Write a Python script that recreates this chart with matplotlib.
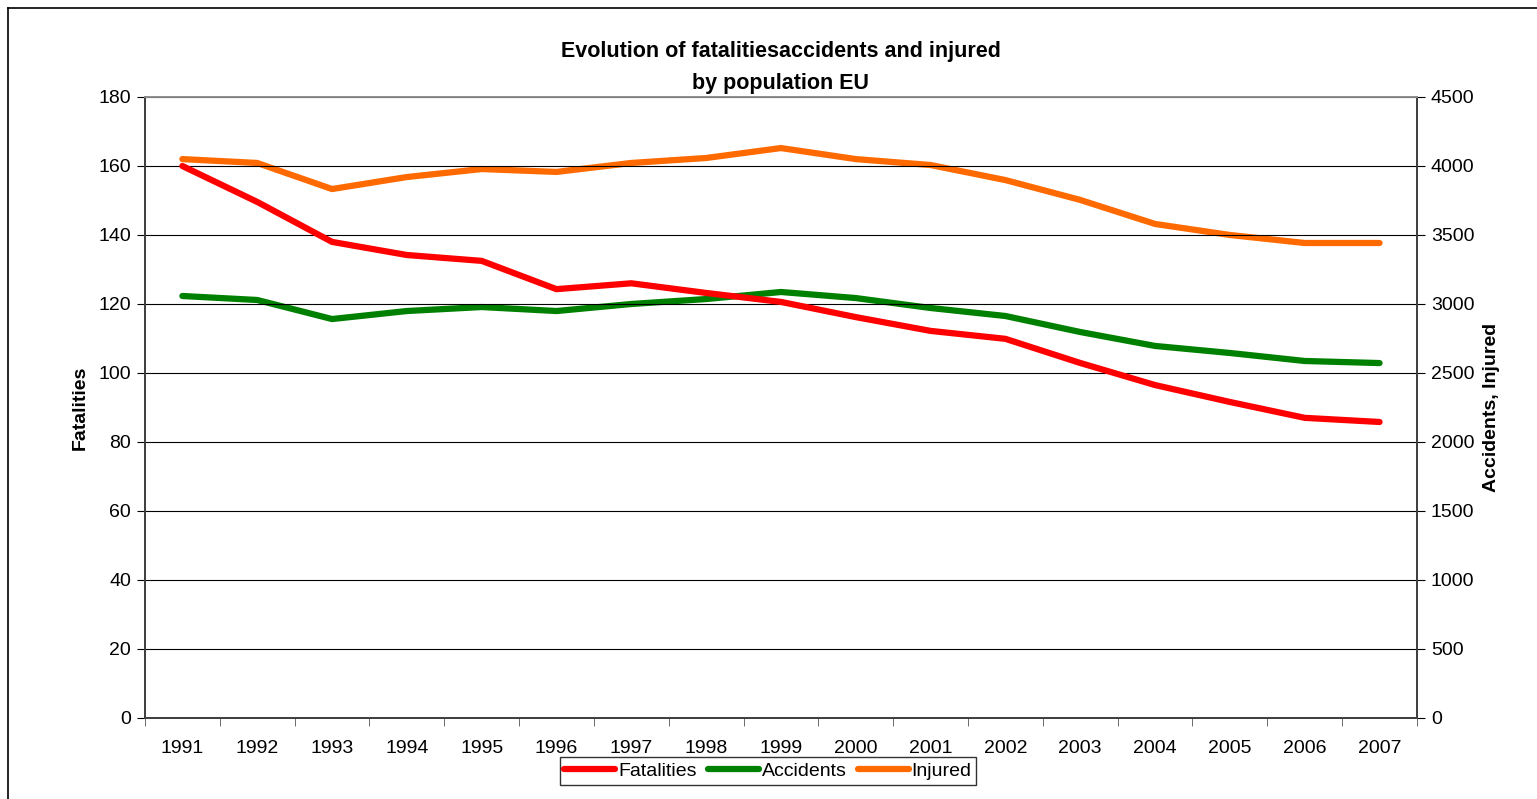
import matplotlib.pyplot as plt
import numpy as np
from matplotlib.lines import Line2D

plt.rcParams['font.family'] = ['Liberation Sans', 'DejaVu Sans']

years = ['1991', '1992', '1993', '1994', '1995', '1996', '1997', '1998', '1999',
         '2000', '2001', '2002', '2003', '2004', '2005', '2006', '2007']
fatalities = [160, 149.6, 138, 134.2, 132.5, 124.3, 126, 123.2, 120.6,
              116.2, 112.2, 109.9, 102.9, 96.5, 91.6, 87, 85.8]
accidents = [3058, 3029, 2891, 2949, 2978, 2949, 3000, 3036, 3087,
             3043, 2971, 2913, 2797, 2696, 2645, 2587, 2572]
injured = [4050, 4022, 3833, 3920, 3978, 3957, 4022, 4058, 4130,
           4050, 4007, 3898, 3754, 3580, 3500, 3442, 3442]

red = '#FF0000'
green = '#008000'
orange = '#FF6A00'

fig = plt.figure(figsize=(15.37, 7.99), dpi=100)
ax = fig.add_axes([0.0943, 0.1014, 0.8276, 0.7772])
ax2 = ax.twinx()

x = np.arange(len(years))
ax2.plot(x, injured, color=orange, linewidth=4.5, solid_capstyle='round')
ax2.plot(x, accidents, color=green, linewidth=4.5, solid_capstyle='round')
ax.plot(x, fatalities, color=red, linewidth=4.5, solid_capstyle='round')
ax.set_zorder(ax2.get_zorder() + 1)
ax.patch.set_visible(False)

ax.set_xlim(-0.5, len(years) - 0.5)
ax.set_ylim(0, 180)
ax2.set_ylim(0, 4500)
ax.set_yticks(np.arange(0, 181, 20))
ax2.set_yticks(np.arange(0, 4501, 500))
ax.set_xticks(x)
ax.set_xticklabels(years)
ax.set_xticks(np.arange(-0.5, len(years), 1), minor=True)
ax.tick_params(axis='x', which='major', length=0, pad=16, labelsize=14)
ax.tick_params(axis='x', which='minor', length=6, color='#555555')
ax.tick_params(axis='y', length=6, labelsize=14, pad=4)
ax2.tick_params(axis='y', length=6, labelsize=14, pad=4)

ax.grid(False)
ax2.grid(False)
for v in np.arange(20, 181, 20):
    ax.axhline(v, color='black', linewidth=0.8, zorder=0)

for a in (ax, ax2):
    a.spines['top'].set_color('#909090')
    a.spines['left'].set_color('#404040')
    a.spines['right'].set_color('#404040')
    a.spines['bottom'].set_color('#404040')
    for s in a.spines.values():
        s.set_linewidth(1.3)

ax.set_ylabel('Fatalities', fontsize=14, fontweight='bold', labelpad=7)
ax2.set_ylabel('Accidents, Injured', fontsize=14, fontweight='bold', labelpad=6)
ax.set_title('Evolution of fatalitiesaccidents and injured\nby population EU',
             fontsize=15.5, fontweight='bold', pad=6, linespacing=1.65)

handles = [Line2D([], [], color=red, linewidth=4.5, solid_capstyle='round'),
           Line2D([], [], color=green, linewidth=4.5, solid_capstyle='round'),
           Line2D([], [], color=orange, linewidth=4.5, solid_capstyle='round')]
leg = fig.legend(handles, ['Fatalities', 'Accidents', 'Injured'], ncol=3,
                 loc='center', bbox_to_anchor=(768 / 1537, 1 - 771 / 799),
                 fontsize=14, frameon=True, fancybox=False, handlelength=2.6,
                 handletextpad=0.15, columnspacing=0.6, borderpad=0.25,
                 borderaxespad=0)
leg.get_frame().set_edgecolor('black')
leg.get_frame().set_linewidth(1.0)

# outer chart border
fig.add_artist(Line2D([8 / 1537, 8 / 1537], [0, 1 - 8 / 799], color='black',
                      linewidth=1.2, transform=fig.transFigure))
fig.add_artist(Line2D([8 / 1537, 1], [1 - 8 / 799, 1 - 8 / 799], color='black',
                      linewidth=1.2, transform=fig.transFigure))

fig.savefig('out.png', dpi=100)
